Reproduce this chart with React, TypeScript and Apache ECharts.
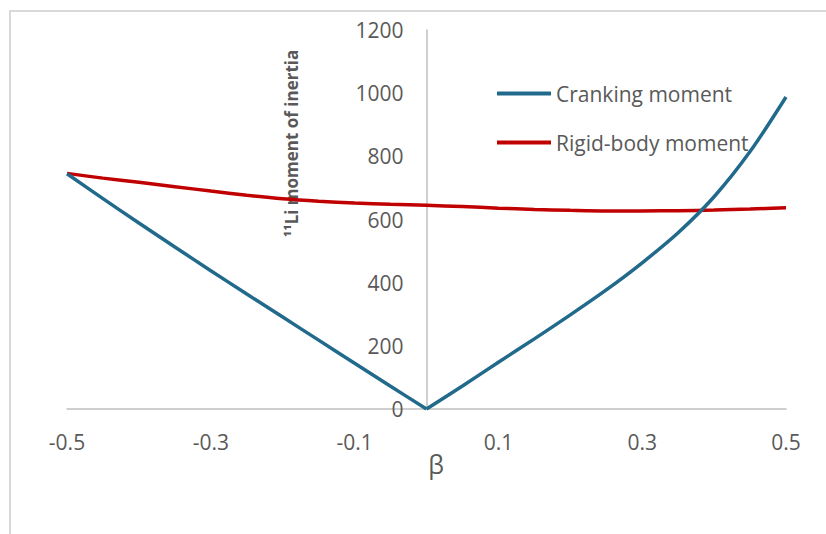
import React, { useEffect, useRef } from "react";
import * as echarts from "echarts";

const betaLeft = [-0.5, -0.45, -0.4, -0.35, -0.3, -0.25, -0.2, -0.15, -0.1, -0.05, 0];
const crankingLeft = [745, 666, 589, 513, 438, 364, 291, 218, 145, 72, 0];
const betaRight = [0, 0.05, 0.1, 0.15, 0.2, 0.25, 0.3, 0.35, 0.4, 0.45, 0.5];
const crankingRight = [0, 73, 148, 222, 298, 377, 463, 558, 672, 815, 988];
const betaAll = [-0.5, -0.45, -0.4, -0.35, -0.3, -0.25, -0.2, -0.15, -0.1, -0.05, 0, 0.05, 0.1, 0.15, 0.2, 0.25, 0.3, 0.35, 0.4, 0.45, 0.5];
const rigid = [746, 731, 718, 704, 690, 677, 666, 658, 652, 648, 645, 641, 636, 632, 629, 627, 627, 628, 630, 633, 637];
const xTickLabels = [-0.5, -0.3, -0.1, 0.1, 0.3, 0.5];
const yTicks = { min: 0, max: 1200, interval: 200 };
const seriesNames = ["Cranking moment", "Rigid-body moment"];
const yAxisTitle = "\u00B9\u00B9Li moment of inertia";
const xAxisTitle = "\u03B2";

const FONT = "'Open Sans', 'Noto Sans', sans-serif";
const GREY = "#595959";
const BLUE = "#216A8C";
const RED = "#C00000";

const GRID_LEFT = 67;
const GRID_RIGHT = 40;
const CHART_W = 826;

const zip = (xs: number[], ys: number[]) => xs.map((x, i) => [x, ys[i]]);

export default function App() {
  const ref = useRef<HTMLDivElement>(null);
  useEffect(() => {
    document.body.style.margin = "0";
    const chart = echarts.init(ref.current!, null, { renderer: "svg" });
    const plotW = CHART_W - GRID_LEFT - GRID_RIGHT;
    const zeroOffset = -(plotW / 2);
    chart.setOption({
      animation: false,
      backgroundColor: "#ffffff",
      textStyle: { fontFamily: FONT },
      grid: { left: GRID_LEFT, right: GRID_RIGHT, top: 30, bottom: 125, containLabel: false, outerBoundsMode: "none" },
      legend: {
        data: seriesNames,
        orient: "vertical",
        left: 497,
        top: 81,
        padding: 0,
        icon: "rect",
        itemWidth: 54,
        itemHeight: 4,
        itemGap: 24,
        textStyle: { fontSize: 21, color: GREY, fontFamily: FONT, lineHeight: 25 },
      },
      xAxis: {
        type: "value",
        min: -0.5,
        max: 0.5,
        interval: 0.1,
        axisLine: { show: true, onZero: false, lineStyle: { color: "#BFBFBF", width: 1.5 } },
        axisTick: { show: false },
        splitLine: { show: false },
        axisLabel: {
          customValues: xTickLabels,
          fontSize: 21,
          color: GREY,
          margin: 22,
          fontFamily: FONT,
          formatter: (v: number) => String(Math.round(v * 10) / 10),
        },
      },
      yAxis: {
        type: "value",
        min: yTicks.min,
        max: yTicks.max,
        interval: yTicks.interval,
        offset: zeroOffset,
        axisLine: { show: true, onZero: false, lineStyle: { color: "#BFBFBF", width: 1.5 } },
        axisTick: { show: false },
        splitLine: { show: false },
        axisLabel: {
          fontSize: 21,
          color: GREY,
          margin: 23,
          fontFamily: FONT,
          formatter: (v: number) => String(v),
        },
      },
      graphic: [
        {
          type: "rect",
          shape: { x: 10, y: 11, width: 840, height: 560 },
          style: { fill: "none", stroke: "#D9D9D9", lineWidth: 2 },
          silent: true,
        },
        {
          type: "text",
          x: 291.5,
          y: 143.5,
          rotation: Math.PI / 2,
          style: {
            text: yAxisTitle,
            fontSize: 17,
            fontWeight: "bold",
            fill: GREY,
            fontFamily: FONT,
            align: "center",
            verticalAlign: "middle",
          },
        },
        {
          type: "text",
          x: 436,
          y: 464,
          style: {
            text: xAxisTitle,
            fontSize: 25,
            fill: GREY,
            fontFamily: FONT,
            align: "center",
            verticalAlign: "middle",
          },
        },
      ],
      series: [
        {
          name: seriesNames[0],
          type: "line",
          data: zip(betaLeft, crankingLeft),
          smooth: 0.3,
          showSymbol: false,
          symbol: "none",
          lineStyle: { color: BLUE, width: 3.5 },
          itemStyle: { color: BLUE },
          z: 3,
        },
        {
          name: seriesNames[0],
          type: "line",
          data: zip(betaRight, crankingRight),
          smooth: 0.3,
          showSymbol: false,
          symbol: "none",
          lineStyle: { color: BLUE, width: 3.5 },
          itemStyle: { color: BLUE },
          z: 3,
        },
        {
          name: seriesNames[1],
          type: "line",
          data: zip(betaAll, rigid),
          smooth: 0.3,
          showSymbol: false,
          symbol: "none",
          lineStyle: { color: RED, width: 3.5 },
          itemStyle: { color: RED },
          z: 2,
        },
      ],
    });
    return () => chart.dispose();
  }, []);
  return <div ref={ref} style={{ width: 826, height: 534 }} />;
}
